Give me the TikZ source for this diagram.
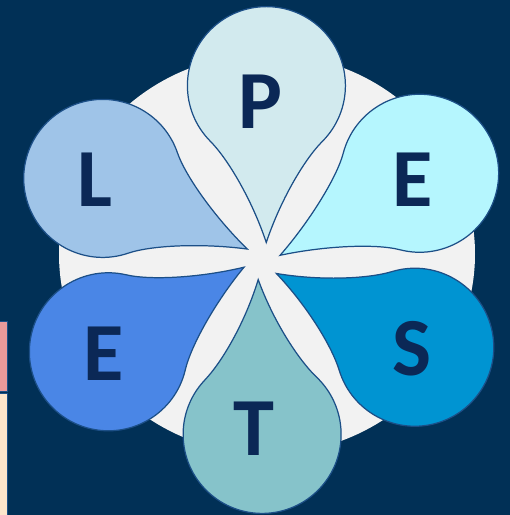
\documentclass[tikz,border=0pt]{standalone}
\usepackage{fontspec}
\setsansfont{Carlito}
\definecolor{navy}{HTML}{013056}
\definecolor{ring}{HTML}{F2F2F2}
\definecolor{edge}{HTML}{1C4F87}
\definecolor{ink}{HTML}{0B2856}
\definecolor{pol}{HTML}{D2EAEE}
\definecolor{eco}{HTML}{B5F6FE}
\definecolor{soc}{HTML}{0094D2}
\definecolor{tec}{HTML}{86C3CA}
\definecolor{env}{HTML}{4A86E6}
\definecolor{leg}{HTML}{9FC4E8}
\definecolor{rose}{HTML}{EA9A9A}
\definecolor{sand}{HTML}{FDE5CB}
\begin{document}
\begin{tikzpicture}[x=0.02cm, y=0.02cm,
  petal/.style={draw=edge, line width=0.7pt},
  letter/.style={font=\sffamily\bfseries\fontsize{47}{47}\selectfont, text=ink, inner sep=0pt}
]
% background
\fill[navy] (0,0) rectangle (510,515);
\useasboundingbox (0,0) rectangle (510,515);
% side strip
\filldraw[fill=rose, draw=edge] (-3,124) rectangle (7.5,194);
\filldraw[fill=sand, draw=edge] (-3,-3) rectangle (7.5,122);
% disc behind petals
\fill[ring] (267,261) ellipse [x radius=208, y radius=200];
% petals: angle / length / fill
\coordinate (hub) at (262,254);
\foreach \a/\l/\col in {90/157/pol, 30.5/162/eco, -28/157/soc, -88.5/155/tec, 212/160/env, 154/161/leg}{
  \begin{scope}[shift={(hub)}, rotate=\a-90, shift={(77:19)}]
    \filldraw[petal, fill=\col] (0,0) .. controls (14,42) and (38,{\l-74}) .. (56,{\l-56})
      arc[start angle=-45, end angle=225, radius=79]
      .. controls (-38,{\l-74}) and (-14,42) .. (0,0) -- cycle;
  \end{scope}
}
% letters
\foreach \txt/\x/\y [count=\i] in {P/260/413, E/413/335, S/412/166, T/254/86, E/104/161, L/95/335}
  \node[letter] (lbl\i) at (\x,\y) {\txt};
\end{tikzpicture}
\end{document}
